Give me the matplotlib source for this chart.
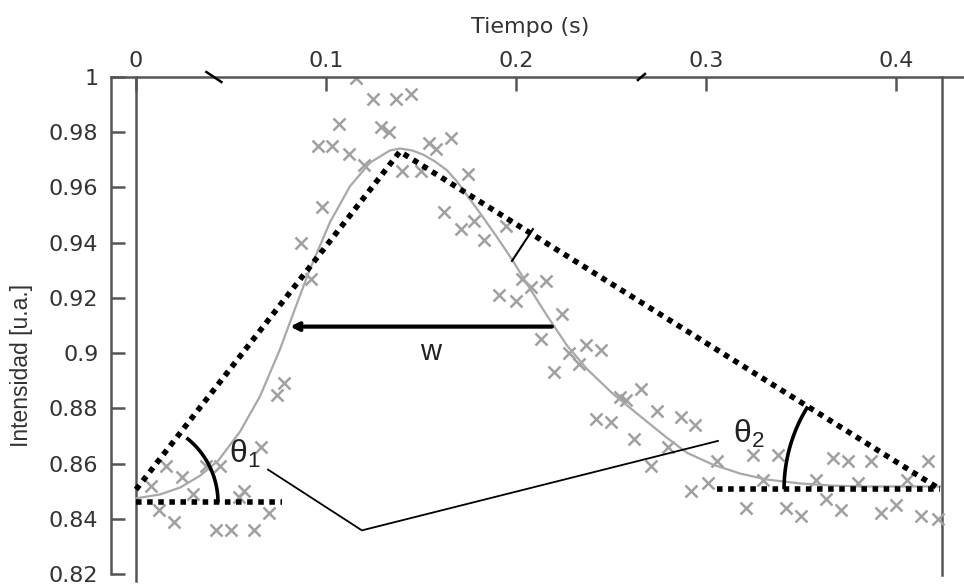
import numpy as np
import matplotlib.pyplot as plt

plt.rcParams['font.family'] = ['DejaVu Sans']

# Datos medidos (tiempo en s, intensidad en u.a.)
t_puntos = [0.008, 0.012, 0.016, 0.020, 0.024, 0.030, 0.037, 0.044, 0.042, 0.050,
            0.062, 0.054, 0.057, 0.070, 0.066, 0.074, 0.078, 0.092, 0.087, 0.098,
            0.096, 0.103, 0.107, 0.112, 0.116, 0.120, 0.125, 0.129, 0.133, 0.137,
            0.145, 0.140, 0.150, 0.154, 0.158, 0.166, 0.175, 0.162, 0.171, 0.178,
            0.183, 0.195, 0.203, 0.208, 0.216, 0.191, 0.200, 0.224, 0.213, 0.228,
            0.237, 0.245, 0.233, 0.220, 0.255, 0.258, 0.266, 0.242, 0.250, 0.274,
            0.287, 0.294, 0.262, 0.280, 0.271, 0.306, 0.292, 0.301, 0.325, 0.338,
            0.321, 0.342, 0.350, 0.330, 0.358, 0.363, 0.371, 0.367, 0.375, 0.387,
            0.380, 0.392, 0.400, 0.406, 0.417, 0.413, 0.422]
i_puntos = [0.852, 0.843, 0.859, 0.839, 0.855, 0.849, 0.859, 0.859, 0.836, 0.836,
            0.836, 0.848, 0.850, 0.842, 0.866, 0.885, 0.889, 0.927, 0.940, 0.953,
            0.975, 0.975, 0.983, 0.972, 0.9995, 0.968, 0.992, 0.982, 0.980, 0.992,
            0.994, 0.966, 0.966, 0.976, 0.974, 0.978, 0.965, 0.951, 0.945, 0.948,
            0.941, 0.946, 0.927, 0.924, 0.926, 0.921, 0.919, 0.914, 0.905, 0.900,
            0.903, 0.901, 0.896, 0.893, 0.884, 0.883, 0.887, 0.876, 0.875, 0.879,
            0.877, 0.874, 0.869, 0.866, 0.859, 0.861, 0.850, 0.853, 0.863, 0.863,
            0.844, 0.844, 0.841, 0.854, 0.854, 0.847, 0.843, 0.862, 0.861, 0.861,
            0.853, 0.842, 0.845, 0.854, 0.861, 0.841, 0.840]

# Curva ajustada
t_curva = [0.0, 0.0126, 0.0232, 0.0337, 0.0432, 0.0547, 0.0653, 0.0758, 0.0837, 0.0916,
           0.1021, 0.1126, 0.1232, 0.1337, 0.1389, 0.1453, 0.1511, 0.1574, 0.1637, 0.1689,
           0.1742, 0.1811, 0.1900, 0.1984, 0.2074, 0.2163, 0.2268, 0.2374, 0.2511, 0.2653,
           0.2795, 0.2900, 0.3037, 0.3179, 0.3321, 0.3495, 0.3668, 0.3847, 0.4021, 0.4232]
i_curva = [0.8474, 0.8488, 0.8513, 0.8556, 0.8610, 0.8715, 0.8844, 0.9014, 0.9161, 0.9305,
           0.9474, 0.9604, 0.9690, 0.9734, 0.9741, 0.9734, 0.9719, 0.9694, 0.9662, 0.9622,
           0.9572, 0.9507, 0.9420, 0.9334, 0.9233, 0.9136, 0.9028, 0.8942, 0.8852, 0.8772,
           0.8693, 0.8639, 0.8596, 0.8564, 0.8542, 0.8528, 0.8520, 0.8517, 0.8517, 0.8517]

# Construccion geometrica (triangulo, bases, anchura w)
t_triangulo = [0.0, 0.1389, 0.4232]
i_triangulo = [0.8506, 0.9730, 0.8507]
t_base1 = [0.0, 0.077]
i_base1 = 0.8459
t_base2 = [0.3058, 0.4232]
i_base2 = 0.8507
t_w = [0.0811, 0.2189]
i_w = 0.9096
t_perp = [0.1979, 0.2089]
i_perp = [0.9334, 0.9449]
t_conector = [0.0695, 0.1189, 0.3063]
i_conector = [0.8578, 0.8358, 0.8682]

x_ticks = [0, 0.1, 0.2, 0.3, 0.4]
x_labels = ['0', '0.1', '0.2', '0.3', '0.4']
y_ticks = [0.82, 0.84, 0.86, 0.88, 0.90, 0.92, 0.94, 0.96, 0.98, 1.0]
y_labels = ['0.82', '0.84', '0.86', '0.88', '0.9', '0.92', '0.94', '0.96', '0.98', '1']

gris_eje = '#555555'
gris_txt = '#333333'

fig = plt.figure(figsize=(9.64, 5.85), dpi=100)
ax = fig.add_axes([111 / 964, 11 / 585, 853 / 964, 497 / 585])
ax.set_xlim(-0.01316, 0.4358)
ax.set_ylim(0.82, 1.0)


def desplazar(t0, i0, dx, dy):
    """Punto desplazado dx, dy pixeles desde (t0, i0)"""
    x0, y0 = ax.transData.transform((t0, i0))
    return ax.transData.inverted().transform((x0 + dx, y0 + dy))


def arco(t0, i0, radio, a1, a2):
    ang = np.radians(np.linspace(a1, a2, 60))
    pts = np.array([desplazar(t0, i0, radio * np.cos(a), radio * np.sin(a)) for a in ang])
    ax.plot(pts[:, 0], pts[:, 1], color='black', lw=2.6, solid_capstyle='butt', zorder=5)


def angulo(p, q):
    a = ax.transData.transform(p)
    b = ax.transData.transform(q)
    return np.degrees(np.arctan2(b[1] - a[1], b[0] - a[0]))


# puntos y curva
ax.plot(t_puntos, i_puntos, 'x', color='#a0a0a0', ms=8, mew=1.8, zorder=2)
ax.plot(t_curva, i_curva, color='#a8a8a8', lw=1.6, zorder=3)

# lineas punteadas
punteado = dict(color='black', lw=4, linestyle=(0, (1, 1)), dash_capstyle='butt', zorder=4)
ax.plot(t_triangulo, i_triangulo, **punteado)
ax.plot(t_base1, [i_base1, i_base1], **punteado)
ax.plot(t_base2, [i_base2, i_base2], **punteado)

# arcos de los angulos
ang1 = angulo((t_triangulo[0], i_triangulo[0]), (t_triangulo[1], i_triangulo[1]))
arco(0.0, i_base1, 82, 0, ang1)
ang2 = angulo((t_triangulo[2], i_triangulo[2]), (t_triangulo[1], i_triangulo[1]))
arco(t_triangulo[2], i_base2, 156, ang2, 180)

# anchura w
ax.annotate('', xy=(t_w[0], i_w), xytext=(t_w[1], i_w),
            arrowprops=dict(arrowstyle='->', lw=3, color='black',
                            shrinkA=0, shrinkB=0, mutation_scale=12))
ax.text(0.155, 0.9003, 'w', fontsize=21, color='#222222', ha='center', va='center',
        family='Liberation Sans')

ax.plot(t_perp, i_perp, color='black', lw=1.5, zorder=5)
ax.plot(t_conector, i_conector, color='black', lw=1.3, zorder=5)

for tt, ii, txt in [(0.0489, 0.8603, r'$\mathregular{\theta_1}$'),
                    (0.3142, 0.8675, r'$\mathregular{\theta_2}$')]:
    ax.text(tt, ii, txt, fontsize=23, color='#222222', ha='left', va='baseline',
            family='Liberation Sans')

# lineas verticales en t=0 y al final
ax.plot([0, 0], [0.8175, 1.0], color=gris_eje, lw=1.8, clip_on=False, zorder=1)
ax.plot([0.4242, 0.4242], [0.8195, 1.0], color=gris_eje, lw=1.8, clip_on=False, zorder=1)

# marcas de corte en el eje superior
for tc, dx, dy in [(0.041, 7.5, -5), (0.266, 3.5, 3)]:
    p1 = desplazar(tc, 1.0, -dx, -dy)
    p2 = desplazar(tc, 1.0, dx, dy)
    ax.plot([p1[0], p2[0]], [p1[1], p2[1]], color='black', lw=1.8, clip_on=False, zorder=6)

# ejes
for s in ['bottom', 'right']:
    ax.spines[s].set_visible(False)
for s in ['left', 'top']:
    ax.spines[s].set_color(gris_eje)
    ax.spines[s].set_linewidth(1.8)

ax.xaxis.tick_top()
ax.xaxis.set_label_position('top')
ax.set_xticks(x_ticks)
ax.set_xticklabels(x_labels)
ax.set_yticks(y_ticks)
ax.set_yticklabels(y_labels)
ax.tick_params(axis='x', direction='in', length=10, width=1.8, pad=4,
               labelsize=16, color=gris_eje, labelcolor=gris_txt)
ax.tick_params(axis='y', direction='in', length=10, width=1.8, pad=9,
               labelsize=16, color=gris_eje, labelcolor=gris_txt)
ax.set_xlabel('Tiempo (s)', fontsize=16, color=gris_txt)
ax.xaxis.set_label_coords(0.491, 1.0885)
ax.set_ylabel('Intensidad [u.a.]', fontsize=16.5, color=gris_txt, family='Liberation Sans')
ax.yaxis.set_label_coords(-0.092, 0.42)

fig.savefig('out.png', dpi=100)
